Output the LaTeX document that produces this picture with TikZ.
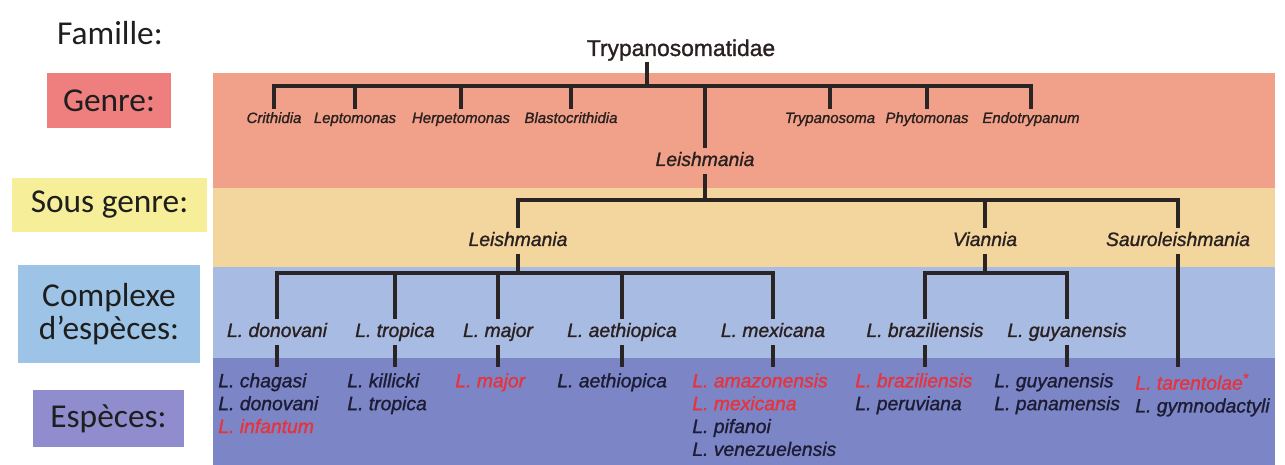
\documentclass[tikz,border=0pt]{standalone}
\usepackage{fontspec}
\setmainfont{Carlito}
\newfontfamily\arialf[UprightFeatures={FakeBold=1.2}, ItalicFeatures={FakeBold=1.2}]{Liberation Sans}
\definecolor{bandred}{HTML}{F1A189}
\definecolor{bandyel}{HTML}{F3D69E}
\definecolor{bandlb}{HTML}{A8BBE2}
\definecolor{banddb}{HTML}{7C86C6}
\definecolor{boxred}{HTML}{EF7F7F}
\definecolor{boxyel}{HTML}{F6EE98}
\definecolor{boxlb}{HTML}{9DC3E6}
\definecolor{boxpur}{HTML}{8F8DCD}
\definecolor{labtxt}{HTML}{1E1E1E}
\definecolor{treetxt}{HTML}{2A2020}
\definecolor{sptxt}{HTML}{1C1C34}
\definecolor{spred}{HTML}{E8323C}
\definecolor{linecol}{HTML}{2B2424}

\begin{document}
\begin{tikzpicture}[x=0.02cm,y=-0.02cm,
  lab/.style={text=labtxt, font=\fontsize{19}{18.7}\selectfont, inner sep=0pt, align=center},
  fam/.style={font=\arialf\fontsize{13}{15}\selectfont, text=treetxt, inner xsep=0pt, inner ysep=0.5pt, text depth=3pt},
  gen/.style={font=\arialf\itshape\fontsize{8.5}{10}\selectfont, text=treetxt, inner xsep=0pt, inner ysep=1pt, text height=6.5pt, text depth=2pt},
  sub/.style={font=\arialf\itshape\fontsize{11}{13}\selectfont, text=treetxt, inner xsep=0pt, inner ysep=2pt, text height=8pt, text depth=2.5pt},
  sp/.style={font=\arialf\itshape\fontsize{11}{13}\selectfont, text=sptxt, anchor=north west, align=left, inner xsep=0pt, inner ysep=3.4pt},
  link/.style={draw=linecol, line width=1.8pt}]
\useasboundingbox (0,0) rectangle (1285,465);

\fill[bandred] (213,73) rectangle (1275,188);
\fill[bandyel] (213,188) rectangle (1275,267);
\fill[bandlb] (213,267) rectangle (1275,358);
\fill[banddb] (213,358) rectangle (1275,465);

\node[lab] (lfam) at (110,33) {Famille:};
\node[lab, fill=boxred, minimum width=2.48cm, minimum height=1.1cm] (lgen) at (109,101) {Genre:};
\node[lab, fill=boxyel, minimum width=3.9cm, minimum height=1.08cm] (lsub) at (109.5,205) {Sous genre:};
\node[lab, fill=boxlb, minimum width=3.64cm, minimum height=1.96cm] (lcpx) at (109,314) {Complexe\\d’espèces:};
\node[lab, fill=boxpur, minimum width=3.02cm, minimum height=1.14cm] (lesp) at (108.5,418.5) {Espèces:};

\node[fam, anchor=base] (tryfam) at (681,56) {Trypanosomatidae};
\node[gen, anchor=base] (crith) at (274,123) {Crithidia};
\node[gen, anchor=base] (lepto) at (355,123) {Leptomonas};
\node[gen, anchor=base] (herp) at (461,123) {Herpetomonas};
\node[gen, anchor=base] (blast) at (571,123) {Blastocrithidia};
\node[gen, anchor=base] (tryp) at (830,123) {Trypanosoma};
\node[gen, anchor=base] (phyt) at (927,123) {Phytomonas};
\node[gen, anchor=base] (endo) at (1031,123) {Endotrypanum};
\node[sub, anchor=base] (leish) at (705,166) {Leishmania};

\node[sub, anchor=base] (sgleish) at (518,246) {Leishmania};
\node[sub, anchor=base] (sgvian) at (985,246) {Viannia};
\node[sub, anchor=base] (sgsaur) at (1178,246) {Sauroleishmania};

\node[sub, anchor=base] (cdon) at (277,337) {L. donovani};
\node[sub, anchor=base] (ctro) at (395,337) {L. tropica};
\node[sub, anchor=base] (cmaj) at (498,337) {L. major};
\node[sub, anchor=base] (caet) at (622,337) {L. aethiopica};
\node[sub, anchor=base] (cmex) at (773,337) {L. mexicana};
\node[sub, anchor=base] (cbra) at (925,337) {L. braziliensis};
\node[sub, anchor=base] (cguy) at (1067,337) {L. guyanensis};

\node[sp] (spdon) at (218,367) {L. chagasi\\L. donovani\\\textcolor{spred}{L. infantum}};
\node[sp] (sptro) at (347,367) {L. killicki\\L. tropica};
\node[sp] (spmaj) at (455,367) {\textcolor{spred}{L. major}};
\node[sp] (spaet) at (557,367) {L. aethiopica};
\node[sp] (spmex) at (692,367) {\textcolor{spred}{L. amazonensis}\\\textcolor{spred}{L. mexicana}\\L. pifanoi\\L. venezuelensis};
\node[sp] (spbra) at (855,367) {\textcolor{spred}{L. braziliensis}\\L. peruviana};
\node[sp] (spguy) at (994,367) {L. guyanensis\\L. panamensis};
\node[sp] (sptar) at (1135,367) {\textcolor{spred}{L. tarentolae\textsuperscript{*}}\\L. gymnodactyli};

\coordinate (jg) at (647,86);
\coordinate (jsg) at (705,200);
\coordinate (jl) at (518,273);
\coordinate (jv) at (985,273);

\draw[link] (tryfam.south -| jg) -- (jg);
\foreach \g in {crith,lepto,herp,blast,leish,tryp,phyt,endo}
  \draw[link] (jg) -| (\g.north);
\draw[link] (leish.south) -- (jsg);
\foreach \g in {sgleish,sgvian,sgsaur}
  \draw[link] (jsg) -| (\g.north);
\draw[link] (sgleish.south) -- (jl);
\foreach \g in {cdon,ctro,cmaj,caet,cmex}
  \draw[link] (jl) -| (\g.north);
\draw[link] (sgvian.south) -- (jv);
\foreach \g in {cbra,cguy}
  \draw[link] (jv) -| (\g.north);
\draw[link] (cdon.south) -- (cdon.south |- spdon.north);
\draw[link] (ctro.south) -- (ctro.south |- sptro.north);
\draw[link] (cmaj.south) -- (cmaj.south |- spmaj.north);
\draw[link] (caet.south) -- (caet.south |- spaet.north);
\draw[link] (cmex.south) -- (cmex.south |- spmex.north);
\draw[link] (cbra.south) -- (cbra.south |- spbra.north);
\draw[link] (cguy.south) -- (cguy.south |- spguy.north);
\draw[link] (sgsaur.south) -- (sgsaur.south |- sptar.north);
\end{tikzpicture}
\end{document}
